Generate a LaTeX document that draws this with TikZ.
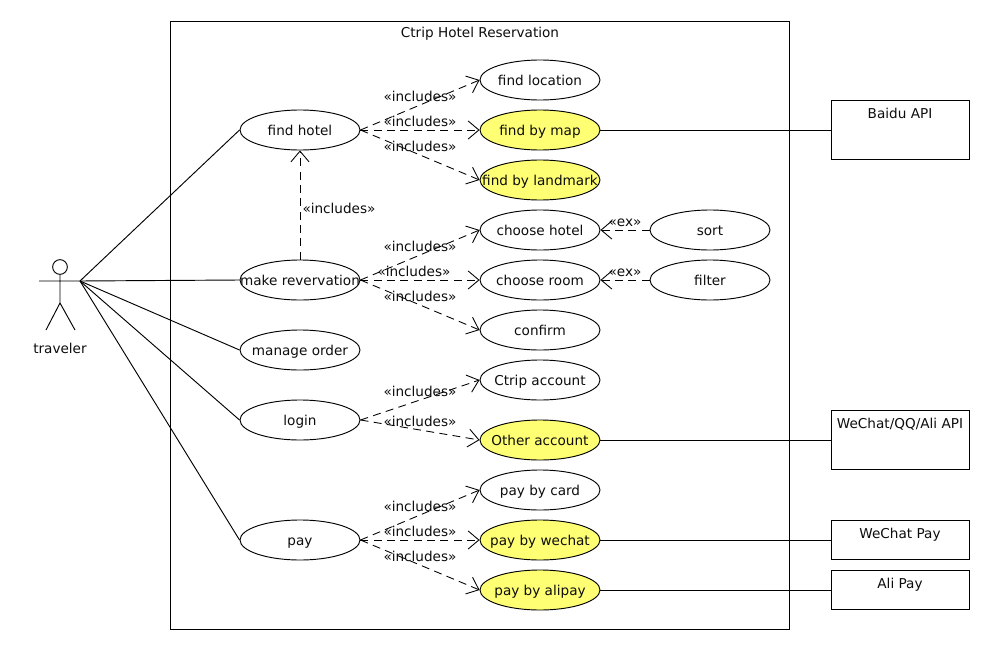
\documentclass[tikz,border=0pt]{standalone}
\usepackage{fontspec}
\setmainfont{DejaVu Sans}
\usetikzlibrary{shapes.geometric,arrows.meta}
\definecolor{uclemon}{HTML}{FFFF73}
\newcommand{\ctext}[1]{\makebox[0pt][c]{#1}}
\tikzset{
  x=0.75pt,y=-0.75pt,
  every node/.style={font=\fontsize{10.2}{12}\selectfont,text=black!95,text height=8.5pt,text depth=1pt},
  ucase/.style={draw,ellipse,fill=white,minimum width=90pt,minimum height=30pt,inner sep=0pt,line width=0.7pt},
  ucy/.style={ucase,fill=uclemon},
  extbox/.style={draw,rectangle,minimum width=103.5pt,line width=0.7pt,anchor=north west,inner sep=0pt},
  dep/.style={dashed,dash pattern=on 6pt off 4pt,line width=0.65pt,-{Straight Barb[length=8pt,width=13.5pt,line width=0.65pt]}},
  assoc/.style={line width=0.7pt},
  lab/.style={inner sep=0pt},
}
\begin{document}
\begin{tikzpicture}
\useasboundingbox (0,0) rectangle (990,650);
\fill[white] (0,0) rectangle (990,650);
\node[draw,rectangle,line width=0.7pt,anchor=north west,minimum width=464.25pt,minimum height=456pt,inner sep=0pt] (sys) at (170,20.5) {};
\node[lab] (title) at (480,32) {Ctrip Hotel Reservation};

% actor
\node[draw,circle,minimum size=11pt,inner sep=0pt,line width=0.7pt,text height=0pt,text depth=0pt] (head) at (60,267) {};
\coordinate (neck) at (60,274.5);
\coordinate (hip) at (60,303);
\coordinate (armL) at (39,281);
\coordinate (traveler) at (80,281);
\coordinate (legL) at (46,330);
\coordinate (legR) at (75,330);
\draw[assoc] (head.south) -- (hip) (armL) -- (traveler) (legL) -- (hip) -- (legR);
\node[lab] (tname) at (60,348) {traveler};

% use cases
\node[ucase] (hotel) at (300,130) {\ctext{find hotel}};
\node[ucase] (resv) at (300,280) {\ctext{make revervation}};
\node[ucase] (order) at (300,350) {\ctext{manage order}};
\node[ucase] (login) at (300,420) {\ctext{login}};
\node[ucase] (pay) at (300,540) {\ctext{pay}};

\node[ucase] (loc) at (540,80) {\ctext{find location}};
\node[ucy] (map) at (540,130) {\ctext{find by map}};
\node[ucy] (land) at (540,180) {\ctext{find by landmark}};
\node[ucase] (chotel) at (540,230) {\ctext{choose hotel}};
\node[ucase] (croom) at (540,280) {\ctext{choose room}};
\node[ucase] (confirm) at (540,330) {\ctext{confirm}};
\node[ucase] (ctrip) at (540,380) {\ctext{Ctrip account}};
\node[ucy] (other) at (540,440) {\ctext{Other account}};
\node[ucase] (card) at (540,490) {\ctext{pay by card}};
\node[ucy] (wechat) at (540,540) {\ctext{pay by wechat}};
\node[ucy] (alipay) at (540,590) {\ctext{pay by alipay}};
\node[ucase] (sort) at (710,230) {\ctext{sort}};
\node[ucase] (filter) at (710,280) {\ctext{filter}};

% external boxes
\node[extbox,minimum height=44.25pt,text height=0pt,text depth=0pt] (baidu) at (830.5,100) {};
\node[lab] (baidut) at (900,113) {Baidu API};
\node[extbox,minimum height=44.25pt,text height=0pt,text depth=0pt] (wqa) at (830.5,410) {};
\node[lab] (wqat) at (900,423) {WeChat/QQ/Ali API};
\node[extbox,minimum height=29.25pt,text height=0pt,text depth=0pt] (wpay) at (830.5,520) {};
\node[lab] (wpayt) at (900,533) {WeChat Pay};
\node[extbox,minimum height=29.25pt,text height=0pt,text depth=0pt] (apay) at (830.5,570) {};
\node[lab] (apayt) at (900,583) {Ali Pay};

% associations
\draw[assoc] (traveler) -- (hotel.west);
\draw[assoc] (traveler) -- (resv.west);
\draw[assoc] (traveler) -- (order.west);
\draw[assoc] (traveler) -- (login.west);
\draw[assoc] (traveler) -- (pay.west);
\draw[assoc] (map.east) -- (map.east -| baidu.west);
\draw[assoc] (other.east) -- (other.east -| wqa.west);
\draw[assoc] (wechat.east) -- (wechat.east -| wpay.west);
\draw[assoc] (alipay.east) -- (alipay.east -| apay.west);

% dependencies
\draw[dep] (resv.north) -- (hotel.south);
\draw[dep] (hotel.east) -- (loc.west);
\draw[dep] (hotel.east) -- (map.west);
\draw[dep] (hotel.east) -- (land.west);
\draw[dep] (resv.east) -- (chotel.west);
\draw[dep] (resv.east) -- (croom.west);
\draw[dep] (resv.east) -- (confirm.west);
\draw[dep] (login.east) -- (ctrip.west);
\draw[dep] (login.east) -- (other.west);
\draw[dep] (pay.east) -- (card.west);
\draw[dep] (pay.east) -- (wechat.west);
\draw[dep] (pay.east) -- (alipay.west);
\draw[dep] (sort.west) -- (chotel.east);
\draw[dep] (filter.west) -- (croom.east);

% labels
\node[lab] (l1) at (420,96) {«includes»};
\node[lab] (l2) at (420,121) {«includes»};
\node[lab] (l3) at (420,146) {«includes»};
\node[lab] (l4) at (339,208) {«includes»};
\node[lab] (l5) at (420,246) {«includes»};
\node[lab] (l6) at (414,271) {«includes»};
\node[lab] (l7) at (420,296) {«includes»};
\node[lab] (l8) at (420,391) {«includes»};
\node[lab] (l9) at (420,421) {«includes»};
\node[lab] (l10) at (420,506) {«includes»};
\node[lab] (l11) at (420,531) {«includes»};
\node[lab] (l12) at (420,556) {«includes»};
\node[lab] (l13) at (625,221) {«ex»};
\node[lab] (l14) at (625,271) {«ex»};
\end{tikzpicture}
\end{document}
